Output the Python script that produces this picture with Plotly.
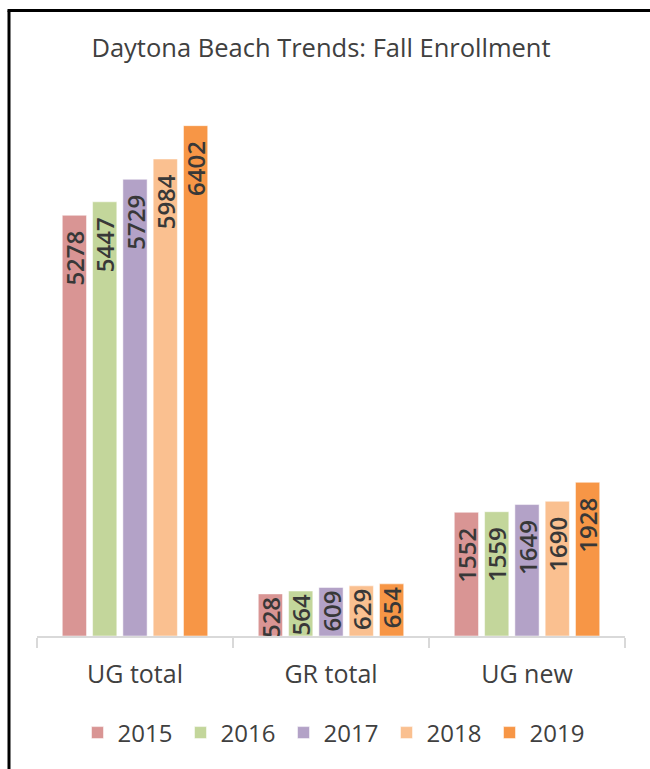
import plotly.graph_objects as go

categories = ["UG total", "GR total", "UG new"]
years = ["2015", "2016", "2017", "2018", "2019"]
values_2015 = [5278, 528, 1552]
values_2016 = [5447, 564, 1559]
values_2017 = [5729, 609, 1649]
values_2018 = [5984, 629, 1690]
values_2019 = [6402, 654, 1928]
series_values = [values_2015, values_2016, values_2017, values_2018, values_2019]
colors = ["#D99594", "#C3D69B", "#B3A2C7", "#FAC090", "#F79646"]

W, H = 650, 769
L, R, T, B = 37, 625, 78, 636

def px_x(p):
    return (p - L) / (R - L)

def px_y(p):
    return (B - p) / (B - T)

FONT = "Open Sans"
TXT = "#404040"

fig = go.Figure()
for yr, vals, col in zip(years, series_values, colors):
    labels = [f"{v}\u00a0\u00a0" if v > 1000 else f"{v}" for v in vals]
    fig.add_trace(go.Bar(
        name=yr, x=categories, y=vals,
        marker=dict(color=col, line=dict(color="rgba(255,255,255,0.5)", width=1)),
        text=labels, texttemplate="%{text}",
        textposition="inside", insidetextanchor="end", textangle=-90,
        constraintext="none",
        textfont=dict(family=FONT, size=24, color="#383838", weight=600),
        hoverinfo="skip",
    ))

fig.update_layout(
    width=W, height=H,
    margin=dict(l=L, r=W - R, t=T, b=H - B),
    paper_bgcolor="white", plot_bgcolor="white",
    barmode="group", bargap=0.227, bargroupgap=0.2,
    title=dict(text="Daytona Beach Trends: Fall Enrollment",
               x=321 / W, xanchor="center", y=1 - 48 / H, yanchor="middle",
               font=dict(family=FONT, size=25.5, color=TXT)),
    showlegend=True,
    legend=dict(orientation="h", x=px_x(335), xanchor="center",
                y=px_y(733), yanchor="middle",
                entrywidth=58, entrywidthmode="pixels",
                font=dict(family=FONT, size=24, color=TXT),
                bgcolor="rgba(0,0,0,0)"),
    xaxis=dict(showline=True, linecolor="#D9D9D9", linewidth=1.5,
               ticks="outside", tickson="boundaries", ticklen=10,
               tickcolor="#D9D9D9", tickwidth=1.5,
               tickfont=dict(family=FONT, size=25, color=TXT),
               ticklabelstandoff=15,
               showgrid=False, zeroline=False, fixedrange=True),
    yaxis=dict(range=[0, 7000], visible=False, showgrid=False, zeroline=False,
               fixedrange=True),
    shapes=[
        dict(type="line", xref="paper", yref="paper",
             x0=px_x(9), x1=px_x(9), y0=px_y(10.5), y1=px_y(H + 2),
             line=dict(color="black", width=3)),
        dict(type="line", xref="paper", yref="paper",
             x0=px_x(7.5), x1=px_x(W + 2), y0=px_y(10.5), y1=px_y(10.5),
             line=dict(color="black", width=3)),
    ],
)

fig.write_html("out.html",
               config={"displayModeBar": False},
               post_script="document.body.style.margin='0';document.body.style.overflow='hidden';")
